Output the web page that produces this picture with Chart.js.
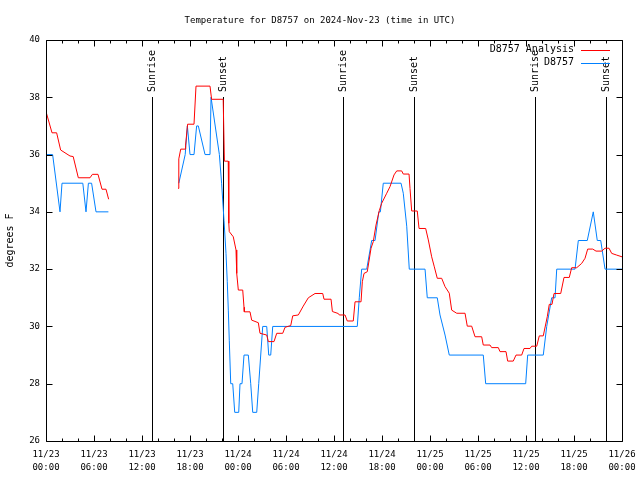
<!DOCTYPE html>
<html>
<head>
<meta charset="utf-8">
<title>Temperature for D8757</title>
<script src="https://cdn.jsdelivr.net/npm/chart.js@4"></script>
<style>
  html, body { margin: 0; padding: 0; background: #fff; }
  #wrap { width: 640px; height: 480px; }
</style>
</head>
<body>
<div id="wrap"><canvas id="tempChart" width="640" height="480"></canvas></div>
<script>
// hours since 2024-11-23 00:00 UTC
const analysisHours = [0, 0.75, 1.33, 1.83, 3.0, 3.4, 4.04, 5.5, 5.8, 6.5, 7.0, 7.5, 7.83, 12,
  16.5, 16.6, 16.84, 17.4, 17.45, 17.7, 18.5, 18.75, 20.5, 20.7, 22.15, 22.3, 22.78, 22.85, 22.91,
  23.41, 23.75, 23.84, 24.04, 24.59, 24.75, 24.79, 25.5, 25.71, 26.54, 26.75, 27.59, 27.79, 28.5,
  28.84, 29.59, 29.88, 30.59, 30.84, 31.54, 32.16, 32.79, 33.63, 34.59, 34.75, 35.63, 35.8, 36.54,
  36.66, 37.38, 37.66, 38.41, 38.63, 39.38, 39.54, 39.75, 40.16, 40.63, 40.91, 41.25, 41.66, 41.96,
  42.59, 43.0, 43.5, 43.84, 44.46, 44.66, 45.38, 45.5, 45.71, 46.41, 46.63, 47.46, 47.79, 48.21,
  48.54, 48.91, 49.46, 49.88, 50.41, 50.71, 51.34, 52.38, 52.66, 53.21, 53.63, 54.46, 54.66, 55.5,
  55.71, 56.54, 56.75, 57.5, 57.71, 58.41, 58.75, 59.46, 59.75, 60.5, 60.71, 61.34, 61.66, 62.16,
  62.66, 62.91, 63.25, 63.5, 64.34, 64.75, 65.41, 65.71, 66.34, 66.96, 67.38, 67.71, 68.34, 68.75,
  69.46, 69.88, 70.38, 70.71, 71.34, 72];
const analysisTemps = [37.5, 36.76, 36.76, 36.16, 35.95, 35.93, 35.19, 35.19, 35.31, 35.31, 34.79, 34.79, 34.44, null,
  34.82, 35.85, 36.19, 36.19, 36.33, 37.06, 37.06, 38.39, 38.39, 37.93, 37.93, 35.77, 35.77, 33.6, 33.31,
  33.13, 32.67, 31.85, 31.27, 31.27, 30.67, 30.51, 30.51, 30.22, 30.13, 29.76, 29.7, 29.47, 29.47,
  29.76, 29.76, 29.97, 30.03, 30.37, 30.4, 30.71, 31.0, 31.15, 31.15, 30.95, 30.95, 30.52, 30.45,
  30.4, 30.4, 30.19, 30.19, 30.86, 30.86, 31.56, 31.85, 31.91, 32.73, 32.96, 33.54, 34.04, 34.3,
  34.65, 34.88, 35.29, 35.43, 35.43, 35.32, 35.32, 34.82, 34.03, 34.03, 33.42, 33.42, 33.02, 32.43,
  32.08, 31.68, 31.68, 31.39, 31.16, 30.57, 30.46, 30.46, 30.01, 30.01, 29.64, 29.64, 29.35, 29.35,
  29.26, 29.26, 29.12, 29.12, 28.79, 28.79, 29.0, 29.0, 29.23, 29.23, 29.31, 29.31, 29.67, 29.67,
  30.34, 30.77, 30.77, 31.15, 31.15, 31.71, 31.71, 32.05, 32.05, 32.2, 32.38, 32.7, 32.7, 32.63,
  32.63, 32.73, 32.73, 32.55, 32.49, 32.43];

const stationHours = [0, 0.83, 1.75, 2.0, 4.6, 5.0, 5.3, 5.7, 6.25, 7.8, 12,
  16.6, 17.4, 17.67, 18.0, 18.5, 18.83, 19.04, 19.88, 20.5, 20.63, 21.67, 21.95, 22.25, 22.5, 22.66,
  22.79, 22.91, 23.09, 23.34, 23.59, 24.09, 24.25, 24.5, 24.75, 25.29, 25.59, 25.84, 26.34, 26.59,
  27.09, 27.59, 27.84, 28.09, 28.34, 38.91, 39.16, 39.46, 40.09, 40.71, 41.13, 41.6, 41.8, 42.16,
  44.38, 44.66, 45.09, 45.41, 47.38, 47.66, 48.91, 49.25, 49.88, 50.41, 54.66, 54.96, 59.96, 60.21,
  62.16, 62.59, 63.21, 63.63, 63.84, 66.13, 66.54, 67.66, 68.41, 68.91, 69.34, 69.88, 72];
const stationTemps = [36, 36, 34, 35, 35, 34, 35, 35, 34, 34, null,
  35, 36, 37, 36, 36, 37, 37, 36, 36, 38, 36, 35, 33.7, 32.55, 31.56,
  30.57, 29.52, 28, 28, 27, 27, 28, 28, 29, 29, 28, 27, 27, 28,
  30, 30, 29, 29, 30, 30, 31, 32, 32, 33, 33, 34, 34, 35,
  35, 34.65, 33.5, 32, 32, 31, 31, 30.4, 29.7, 29, 29, 28, 28, 29,
  29, 30, 31, 31, 32, 32, 33, 33, 34, 33, 33, 32, 32];

const sunHours = [13.2, 22.15, 37.17, 46.05, 61.17, 70.05];
const sunLabels = ['Sunrise', 'Sunset', 'Sunrise', 'Sunset', 'Sunrise', 'Sunset'];

const tickDates = ['11/23', '11/23', '11/23', '11/23', '11/24', '11/24', '11/24', '11/24', '11/25', '11/25', '11/25', '11/25', '11/26'];
const tickTimes = ['00:00', '06:00', '12:00', '18:00', '00:00', '06:00', '12:00', '18:00', '00:00', '06:00', '12:00', '18:00', '00:00'];

const FONT = 'DejaVu Sans Mono';

function toPoints(hours, temps) {
    return hours.map((h, i) => ({ x: h, y: temps[i] }));
}

// frame, inward ticks, sunrise/sunset markers and the legend, gnuplot style
const gnuplotDecor = {
    id: 'gnuplotDecor',
    beforeDatasetsDraw(chart) {
        const ctx = chart.ctx;
        const area = chart.chartArea;
        const xs = chart.scales.x;
        ctx.save();
        ctx.strokeStyle = '#000';
        ctx.lineWidth = 1;
        ctx.fillStyle = '#000';
        ctx.font = '10px ' + FONT;
        sunHours.forEach((h, i) => {
            const x = Math.round(xs.getPixelForValue(h)) + 0.5;
            ctx.beginPath();
            ctx.moveTo(x, area.top + 57);
            ctx.lineTo(x, area.bottom);
            ctx.stroke();
            ctx.save();
            ctx.translate(x, area.top + 52);
            ctx.rotate(-Math.PI / 2);
            ctx.textAlign = 'left';
            ctx.textBaseline = 'middle';
            ctx.fillText(sunLabels[i], 0, 0);
            ctx.restore();
        });
        ctx.restore();
    },
    afterDraw(chart) {
        const ctx = chart.ctx;
        const area = chart.chartArea;
        const xs = chart.scales.x;
        const ys = chart.scales.y;
        ctx.save();
        ctx.strokeStyle = '#000';
        ctx.lineWidth = 1;
        ctx.beginPath();
        const L = Math.round(area.left) + 0.5, R = Math.round(area.right) + 0.5;
        const T = Math.round(area.top) + 0.5, B = Math.round(area.bottom) + 0.5;
        ctx.rect(L, T, R - L, B - T);
        // x ticks every 2 hours, long ones every 6
        for (let h = xs.min; h <= xs.max; h += 2) {
            const x = Math.round(xs.getPixelForValue(h)) + 0.5;
            const len = (h % 6 === 0) ? 6 : 3;
            ctx.moveTo(x, B); ctx.lineTo(x, B - len);
            ctx.moveTo(x, T); ctx.lineTo(x, T + len);
        }
        ys.ticks.forEach(t => {
            const y = Math.round(ys.getPixelForValue(t.value)) + 0.5;
            ctx.moveTo(L, y); ctx.lineTo(L + 6, y);
            ctx.moveTo(R, y); ctx.lineTo(R - 6, y);
        });
        ctx.stroke();

        // legend, top right inside the frame
        ctx.font = '10px ' + FONT;
        ctx.textAlign = 'right';
        ctx.textBaseline = 'middle';
        chart.data.datasets.forEach((ds, i) => {
            const y = area.top + 9.5 + i * 13;
            ctx.fillStyle = '#000';
            ctx.fillText(ds.label, area.right - 48, y);
            ctx.strokeStyle = ds.borderColor;
            ctx.beginPath();
            ctx.moveTo(area.right - 41, Math.round(y) + 0.5);
            ctx.lineTo(area.right - 12, Math.round(y) + 0.5);
            ctx.stroke();
        });
        ctx.restore();
    }
};

const chart = new Chart(document.getElementById('tempChart'), {
    type: 'line',
    data: {
        datasets: [{
            label: 'D8757 Analysis',
            data: toPoints(analysisHours, analysisTemps),
            borderColor: '#ff0000',
            borderWidth: 1,
            pointRadius: 0,
            tension: 0,
            spanGaps: false
        }, {
            label: 'D8757',
            data: toPoints(stationHours, stationTemps),
            borderColor: '#0080ff',
            borderWidth: 1,
            pointRadius: 0,
            tension: 0,
            spanGaps: false
        }]
    },
    options: {
        responsive: false,
        animation: false,
        layout: { padding: 0 },
        plugins: {
            legend: { display: false },
            tooltip: { enabled: false },
            title: {
                display: true,
                text: 'Temperature for D8757 on 2024-Nov-23 (time in UTC)',
                color: '#000',
                font: { family: FONT, size: 9, weight: 'normal', lineHeight: 1.2 },
                padding: { top: 15, bottom: 14.2 }
            }
        },
        scales: {
            x: {
                type: 'linear',
                min: 0,
                max: 72,
                grid: { display: false },
                border: { display: false },
                ticks: {
                    stepSize: 6,
                    autoSkip: false,
                    maxRotation: 0,
                    color: '#000',
                    padding: -1,
                    font: { family: FONT, size: 9, lineHeight: 1.45 },
                    callback: (v) => {
                        const i = Math.round(v / 6);
                        return [tickDates[i], tickTimes[i]];
                    }
                },
                afterFit: (s) => { s.height = 39; s.paddingLeft = 0; s.paddingRight = 18; }
            },
            y: {
                min: 26,
                max: 40,
                grid: { display: false, tickLength: 0 },
                border: { display: false },
                ticks: {
                    stepSize: 2,
                    color: '#000',
                    padding: 6,
                    font: { family: FONT, size: 9 }
                },
                title: {
                    display: true,
                    text: 'degrees F',
                    color: '#000',
                    font: { family: FONT, size: 10 },
                    padding: { top: 4, bottom: 0 }
                },
                afterFit: (s) => { s.width = 46; s.paddingTop = 0; s.paddingBottom = 0; }
            }
        }
    },
    plugins: [gnuplotDecor]
});
</script>
</body>
</html>
